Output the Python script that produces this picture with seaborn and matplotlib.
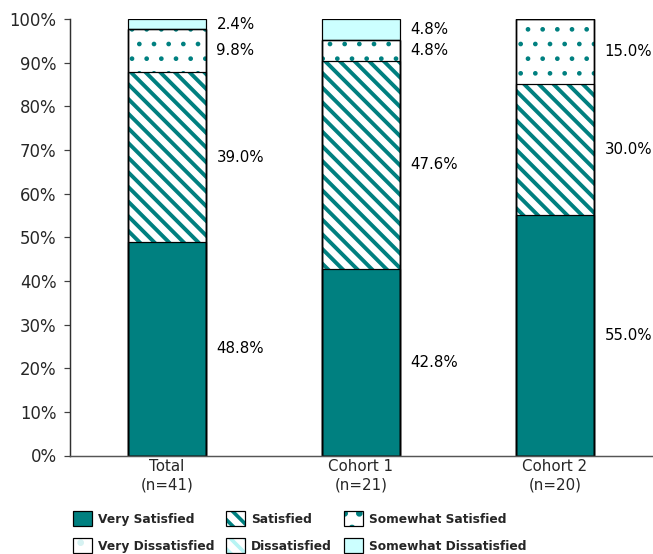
import matplotlib
matplotlib.use("Agg")
import matplotlib.pyplot as plt
from matplotlib.patches import Patch
import pandas as pd
import seaborn as sns

# ---- data -------------------------------------------------------------
groups = ["Total\n(n=41)", "Cohort 1\n(n=21)", "Cohort 2\n(n=20)"]
categories = ["Very Satisfied", "Satisfied", "Somewhat Satisfied",
              "Very Dissatisfied", "Dissatisfied", "Somewhat Dissatisfied"]
very_satisfied = [48.8, 42.8, 55.0]
satisfied = [39.0, 47.6, 30.0]
somewhat_satisfied = [9.8, 4.8, 15.0]
very_dissatisfied = [0.0, 0.0, 0.0]
dissatisfied = [0.0, 0.0, 0.0]
somewhat_dissatisfied = [2.4, 4.8, 0.0]
y_ticks = [0, 10, 20, 30, 40, 50, 60, 70, 80, 90, 100]

# ---- styling ----------------------------------------------------------
sns.set_style("white")
DPI = 88
plt.rcParams["font.family"] = ["DejaVu Sans"]
plt.rcParams["hatch.linewidth"] = 3.0

TEAL = "#008080"
CYAN = "#CCFFFF"
styles = {
    "Very Satisfied":        dict(face=TEAL,    hatch=None,   hc=TEAL,      hlw=3.0),
    "Satisfied":             dict(face="white", hatch="\\\\", hc=TEAL,      hlw=3.2),
    "Somewhat Satisfied":    dict(face="white", hatch=".",    hc=TEAL,      hlw=1.4),
    "Very Dissatisfied":     dict(face="white", hatch=".",    hc="#d6f2f2", hlw=1.4),
    "Dissatisfied":          dict(face="white", hatch="\\\\", hc="#b8f4f4", hlw=3.2),
    "Somewhat Dissatisfied": dict(face=CYAN,    hatch=None,   hc=CYAN,      hlw=3.0),
}


def set_hlw(patch, lw):
    if hasattr(patch, "set_hatch_linewidth"):
        patch.set_hatch_linewidth(lw)


df = pd.DataFrame({
    "group": groups,
    "Very Satisfied": very_satisfied,
    "Satisfied": satisfied,
    "Somewhat Satisfied": somewhat_satisfied,
    "Very Dissatisfied": very_dissatisfied,
    "Dissatisfied": dissatisfied,
    "Somewhat Dissatisfied": somewhat_dissatisfied,
})
cum = df[categories].cumsum(axis=1)
cum["group"] = df["group"]

fig = plt.figure(figsize=(653 / DPI, 554 / DPI), dpi=DPI)
ax = fig.add_axes([70 / 653, 1 - 455.5 / 554, 582 / 653, (455.5 - 19) / 554])

BAR_W = 0.405
# stacked bars: draw cumulative tops from the top segment down
for name in reversed(categories):
    st = styles[name]
    n_before = len(ax.patches)
    sns.barplot(data=cum, x="group", y=name, order=groups, color=st["face"],
                saturation=1, hatch=st["hatch"], edgecolor=st["hc"],
                linewidth=0, width=BAR_W, errorbar=None, ax=ax)
    for p in ax.patches[n_before:]:
        set_hlw(p, st["hlw"])

# black segment outlines
for name in categories:
    sns.barplot(data=cum, x="group", y=name, order=groups, fill=False,
                color="black", linewidth=1.0, width=BAR_W, errorbar=None, ax=ax)

# value labels to the right of each bar
for i in range(len(groups)):
    for name in categories:
        v = df.loc[i, name]
        if v <= 0:
            continue
        y = cum.loc[i, name] - v / 2
        ax.text(i + 0.255, y, f"{v:.1f}%", ha="left", va="center",
                fontsize=12.3, color="black")

# ---- axes -------------------------------------------------------------
ax.set_ylim(0, 100)
ax.set_xlim(-0.5, 2.5)
ax.set_yticks(y_ticks)
ax.set_yticklabels([f"{t}%" for t in y_ticks], fontsize=13.5)
ax.set_xticks([-0.5, 0.5, 1.5, 2.5])
ax.set_xticklabels([])
ax.set_xticks([0, 1, 2], minor=True)
ax.set_xticklabels(groups, minor=True, fontsize=12.3, linespacing=1.25)
ax.tick_params(axis="x", which="minor", length=0, pad=3)
ax.tick_params(axis="x", which="major", length=4, width=1, color="#404040",
               direction="out")
ax.tick_params(axis="y", length=5, width=1, color="#404040", direction="out",
               pad=6, left=True)
ax.set_xlabel("")
ax.set_ylabel("")
for side in ("top", "right"):
    ax.spines[side].set_visible(False)
ax.spines["left"].set_color("#303030")
ax.spines["bottom"].set_color("#555555")
for side in ("left", "bottom"):
    ax.spines[side].set_linewidth(1.2)

# ---- legend -----------------------------------------------------------
def handle(name):
    st = styles[name]
    fill = Patch(facecolor=st["face"], hatch=st["hatch"], edgecolor=st["hc"],
                 linewidth=0)
    set_hlw(fill, st["hlw"])
    frame = Patch(facecolor="none", edgecolor="black", linewidth=1.0)
    return (fill, frame)

legend_order = ["Very Satisfied", "Very Dissatisfied", "Satisfied",
                "Dissatisfied", "Somewhat Satisfied", "Somewhat Dissatisfied"]
fig.legend([handle(n) for n in legend_order], legend_order, ncol=3,
           loc="upper left", bbox_to_anchor=(73 / 653, 1 - 511 / 554),
           frameon=False, borderpad=0, borderaxespad=0,
           handlelength=1.55, handleheight=1.55, handletextpad=0.5,
           columnspacing=0.95, labelspacing=0.95,
           prop=dict(weight="bold", size=10))

fig.savefig("out.png", dpi=DPI)
